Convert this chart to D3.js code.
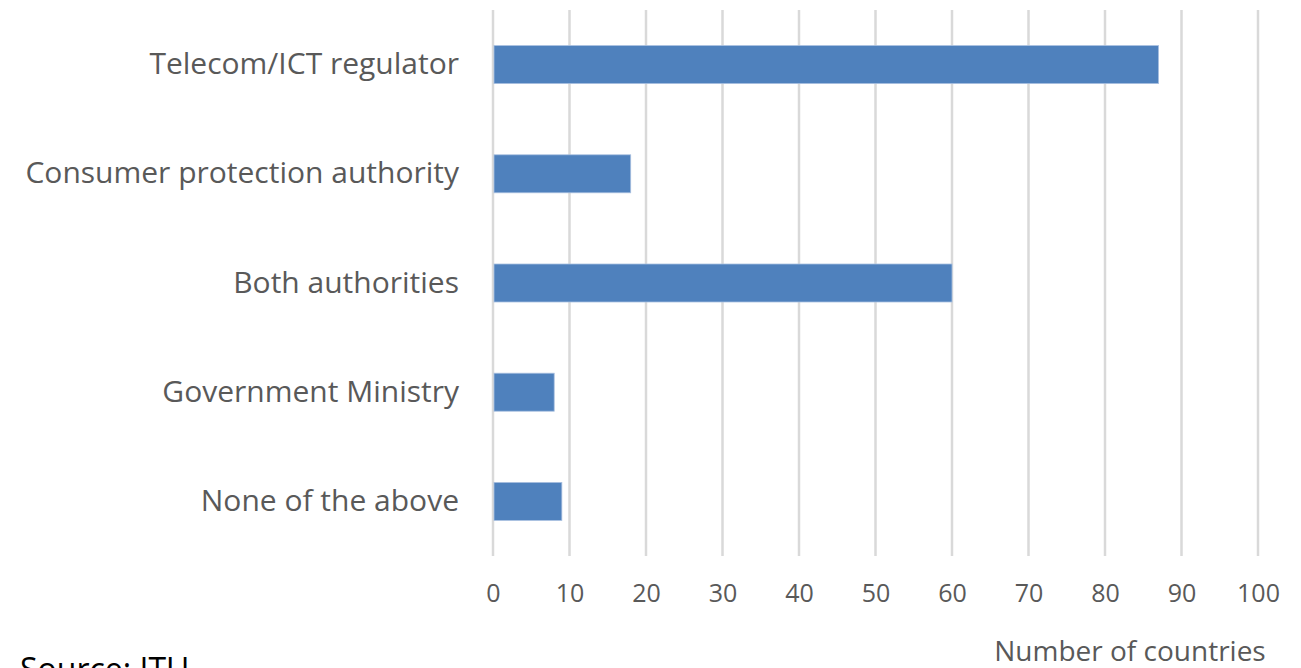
<!DOCTYPE html>
<html>
<head>
<meta charset="utf-8">
<script src="https://cdn.jsdelivr.net/npm/d3@7"></script>
<style>
  html, body { margin: 0; padding: 0; background: #fff; }
  svg { display: block; }
</style>
</head>
<body>
<script>
const categories = ["Telecom/ICT regulator", "Consumer protection authority", "Both authorities", "Government Ministry", "None of the above"];
const values = [87, 18, 60, 8, 9];
const tickValues = [0, 10, 20, 30, 40, 50, 60, 70, 80, 90, 100];
const axisTitle = "Number of countries";
const sourceText = "Source: ITU";

const W = 1301, H = 668;
const margin = { left: 493, right: 43, top: 10, bottom: 112 };

const svg = d3.select("body").append("svg").attr("width", W).attr("height", H);

const x = d3.scaleLinear().domain([0, 100]).range([margin.left, W - margin.right]);
const y = d3.scaleBand().domain(categories).range([margin.top, H - margin.bottom]).paddingInner(0.652).paddingOuter(0.326);

const font = "'Open Sans', sans-serif";

// gridlines
svg.append("g").selectAll("line").data(tickValues).join("line")
  .attr("x1", d => x(d)).attr("x2", d => x(d))
  .attr("y1", margin.top).attr("y2", H - margin.bottom)
  .attr("stroke", "#d9d9d9").attr("stroke-width", 2.5);

// bars
svg.append("g").selectAll("rect").data(values).join("rect")
  .attr("x", x(0) + 1)
  .attr("y", (d, i) => y(categories[i]))
  .attr("width", d => x(d) - x(0) - 1)
  .attr("height", y.bandwidth())
  .attr("fill", "#4f81bd")
  .attr("stroke", "#a9c0e0").attr("stroke-width", 0.8);

// x axis tick labels
const xAxis = d3.axisBottom(x).tickValues(tickValues).tickSize(0).tickPadding(0);
const gx = svg.append("g").attr("transform", `translate(0, ${H - margin.bottom + 29})`).call(xAxis);
gx.select(".domain").remove();
gx.selectAll("text")
  .attr("font-family", font).attr("font-size", 25).attr("fill", "#595959")
  .attr("dy", "0.68em");

// y axis category labels
const yAxis = d3.axisLeft(y).tickSize(0).tickPadding(34);
const gy = svg.append("g").attr("transform", `translate(${margin.left}, 0)`).call(yAxis);
gy.select(".domain").remove();
gy.selectAll("text")
  .attr("font-family", font).attr("font-size", 30).attr("fill", "#595959");

// axis title
svg.append("text").attr("x", 1130).attr("y", 661)
  .attr("text-anchor", "middle")
  .attr("font-family", font).attr("font-size", 28).attr("fill", "#595959")
  .text(axisTitle);

// source
svg.append("text").attr("x", 20).attr("y", 681)
  .attr("font-family", font).attr("font-size", 32).attr("fill", "#000")
  .text(sourceText);
</script>
</body>
</html>
